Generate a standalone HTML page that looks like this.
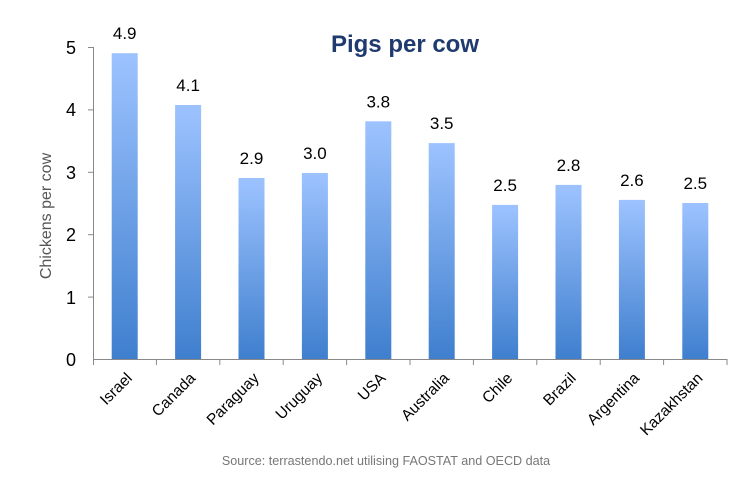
<!DOCTYPE html>
<html><head><meta charset="utf-8"><style>html,body{margin:0;padding:0;background:#fff}svg{display:block}</style></head><body>
<svg width="751" height="480" xmlns="http://www.w3.org/2000/svg" font-family="Liberation Sans, sans-serif">
<defs><linearGradient id="g" x1="0" y1="0" x2="0" y2="1"><stop offset="0" stop-color="#9dc3ff"/><stop offset="1" stop-color="#3f7fce"/></linearGradient></defs>
<text x="405" y="52" text-anchor="middle" font-size="24" font-weight="bold" fill="#1f3a6e">Pigs per cow</text>
<text transform="translate(51,216) rotate(-90)" text-anchor="middle" font-size="16" fill="#555">Chickens per cow</text>
<g fill="url(#g)">
<rect x="111.7" y="53.2" width="26" height="305.8"/>
<rect x="175.1" y="105" width="26" height="254"/>
<rect x="238.5" y="178" width="26" height="181"/>
<rect x="301.9" y="173" width="26" height="186"/>
<rect x="365.3" y="121.3" width="26" height="237.7"/>
<rect x="428.7" y="143.1" width="26" height="215.9"/>
<rect x="492.1" y="204.9" width="26" height="154.1"/>
<rect x="555.5" y="184.9" width="26" height="174.1"/>
<rect x="618.9" y="199.9" width="26" height="159.1"/>
<rect x="682.3" y="203" width="26" height="156"/>
</g>
<g stroke="#888" stroke-width="1">
<line x1="93.5" y1="47" x2="93.5" y2="365"/>
<line x1="93" y1="359.5" x2="727" y2="359.5"/>
<line x1="88" y1="47.5" x2="93" y2="47.5"/><line x1="88" y1="109.9" x2="93" y2="109.9"/><line x1="88" y1="172.3" x2="93" y2="172.3"/><line x1="88" y1="234.7" x2="93" y2="234.7"/><line x1="88" y1="297.1" x2="93" y2="297.1"/>
<line x1="156.4" y1="359" x2="156.4" y2="365"/><line x1="219.8" y1="359" x2="219.8" y2="365"/><line x1="283.2" y1="359" x2="283.2" y2="365"/><line x1="346.6" y1="359" x2="346.6" y2="365"/><line x1="410" y1="359" x2="410" y2="365"/><line x1="473.4" y1="359" x2="473.4" y2="365"/><line x1="536.8" y1="359" x2="536.8" y2="365"/><line x1="600.2" y1="359" x2="600.2" y2="365"/><line x1="663.6" y1="359" x2="663.6" y2="365"/><line x1="727" y1="359" x2="727" y2="365"/>
</g>
<g font-size="18" fill="#000" text-anchor="end">
<text x="76" y="366">0</text><text x="76" y="304">1</text><text x="76" y="241">2</text><text x="76" y="179">3</text><text x="76" y="116">4</text><text x="76" y="54">5</text>
</g>
<g font-size="17" text-anchor="middle" fill="#000">
<text x="124.7" y="39.2">4.9</text>
<text x="188.1" y="91">4.1</text>
<text x="251.5" y="164">2.9</text>
<text x="314.9" y="159">3.0</text>
<text x="378.3" y="107.3">3.8</text>
<text x="441.7" y="129.1">3.5</text>
<text x="505.1" y="190.9">2.5</text>
<text x="568.5" y="170.9">2.8</text>
<text x="631.9" y="185.9">2.6</text>
<text x="695.3" y="189">2.5</text>
</g>
<g font-size="15.5" text-anchor="end" fill="#000">
<text transform="translate(133,379) rotate(-45)">Israel</text>
<text transform="translate(196.4,379) rotate(-45)">Canada</text>
<text transform="translate(259.8,379) rotate(-45)">Paraguay</text>
<text transform="translate(323.2,379) rotate(-45)">Uruguay</text>
<text transform="translate(386.6,379) rotate(-45)">USA</text>
<text transform="translate(450,379) rotate(-45)">Australia</text>
<text transform="translate(513.4,379) rotate(-45)">Chile</text>
<text transform="translate(576.8,379) rotate(-45)">Brazil</text>
<text transform="translate(640.2,379) rotate(-45)">Argentina</text>
<text transform="translate(703.6,379) rotate(-45)">Kazakhstan</text>
</g>
<text x="386" y="465" text-anchor="middle" font-size="12.6" fill="#777">Source: terrastendo.net utilising FAOSTAT and OECD data</text>
</svg>
</body></html>
